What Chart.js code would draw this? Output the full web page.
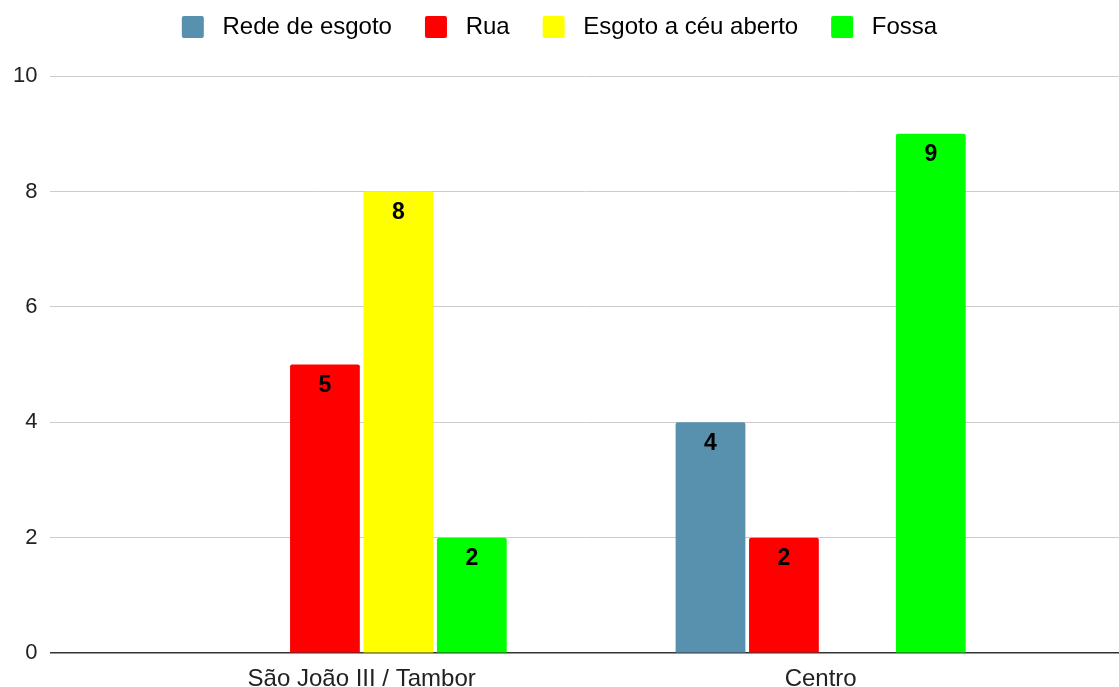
<!DOCTYPE html>
<html>
<head>
<meta charset="utf-8">
<script src="https://cdn.jsdelivr.net/npm/chart.js@4.4.1/dist/chart.umd.min.js"></script>
<style>
  html, body { margin: 0; padding: 0; background: #fff; }
  #wrap { width: 1119px; height: 687px; }
</style>
</head>
<body>
<div id="wrap"><canvas id="myChart" width="1119" height="687"></canvas></div>
<script>
// dados do grafico
const categorias = ['São João III / Tambor', 'Centro'];
const redeEsgoto = [0, 4];
const rua = [5, 2];
const esgotoAberto = [8, 0];
const fossa = [2, 9];
const yTicks = [0, 2, 4, 6, 8, 10];

const nomes = ['Rede de esgoto', 'Rua', 'Esgoto a céu aberto', 'Fossa'];
const cores = ['#5891ad', '#ff0000', '#ffff00', '#00ff00'];
const series = [redeEsgoto, rua, esgotoAberto, fossa];

Chart.defaults.font.family = '"Liberation Sans", Arial, sans-serif';

// rotulos dentro das barras
const rotulos = {
  id: 'rotulos',
  afterDatasetsDraw(chart) {
    const ctx = chart.ctx;
    ctx.save();
    ctx.font = 'bold 23px "Liberation Sans", Arial, sans-serif';
    ctx.fillStyle = '#000';
    ctx.textAlign = 'center';
    ctx.textBaseline = 'middle';
    chart.data.datasets.forEach((ds, i) => {
      chart.getDatasetMeta(i).data.forEach((bar, j) => {
        const v = ds.data[j].y;
        if (v > 0) ctx.fillText(String(v), bar.x, bar.y + 21);
      });
    });
    ctx.restore();
  }
};

// espaco extra abaixo da legenda
const espacoLegenda = {
  id: 'espacoLegenda',
  beforeInit(chart) {
    const fitOriginal = chart.legend.fit;
    chart.legend.fit = function () {
      fitOriginal.bind(chart.legend)();
      this.height += 27;
    };
  }
};

const ctx = document.getElementById('myChart').getContext('2d');
const myChart = new Chart(ctx, {
  type: 'bar',
  data: {
    datasets: series.map((s, i) => ({
      label: nomes[i],
      data: s.map((v, j) => ({ x: j, y: v })),
      backgroundColor: cores[i],
      borderRadius: 2,
      barPercentage: 0.95,
      categoryPercentage: 0.64
    }))
  },
  options: {
    responsive: false,
    animation: false,
    layout: { padding: { left: 0, right: 0, top: 2, bottom: -11 } },
    plugins: {
      tooltip: { enabled: false },
      legend: {
        position: 'top',
        labels: {
          boxWidth: 22,
          boxHeight: 22,
          padding: 13,
          color: '#222',
          font: { size: 24 },
          generateLabels(chart) {
            const n = chart.data.datasets.length;
            return chart.data.datasets.map((ds, i) => ({
              text: ' ' + ds.label + (i < n - 1 ? '   ' : ''),
              fillStyle: ds.backgroundColor,
              strokeStyle: ds.backgroundColor,
              lineWidth: 0,
              borderRadius: 2,
              datasetIndex: i
            }));
          }
        }
      }
    },
    scales: {
      x: {
        type: 'linear',
        offset: false,
        min: -0.678,
        max: 1.65,
        afterBuildTicks(scale) {
          scale.ticks = categorias.map((c, i) => ({ value: i }));
        },
        ticks: {
          color: '#222',
          font: { size: 24 },
          padding: 4,
          callback: (v) => categorias[v]
        },
        grid: { display: false, offset: false },
        border: { display: false }
      },
      y: {
        min: 0,
        max: 10,
        afterBuildTicks(scale) {
          scale.ticks = yTicks.map(v => ({ value: v }));
        },
        ticks: { color: '#222', font: { size: 22 }, padding: 13 },
        grid: {
          drawTicks: false,
          color: (c) => c.tick.value === 0 ? '#333' : '#cccccc',
          lineWidth: (c) => c.tick.value === 0 ? 1.5 : 1
        },
        border: { display: false }
      }
    }
  },
  plugins: [rotulos, espacoLegenda]
});
</script>
</body>
</html>
